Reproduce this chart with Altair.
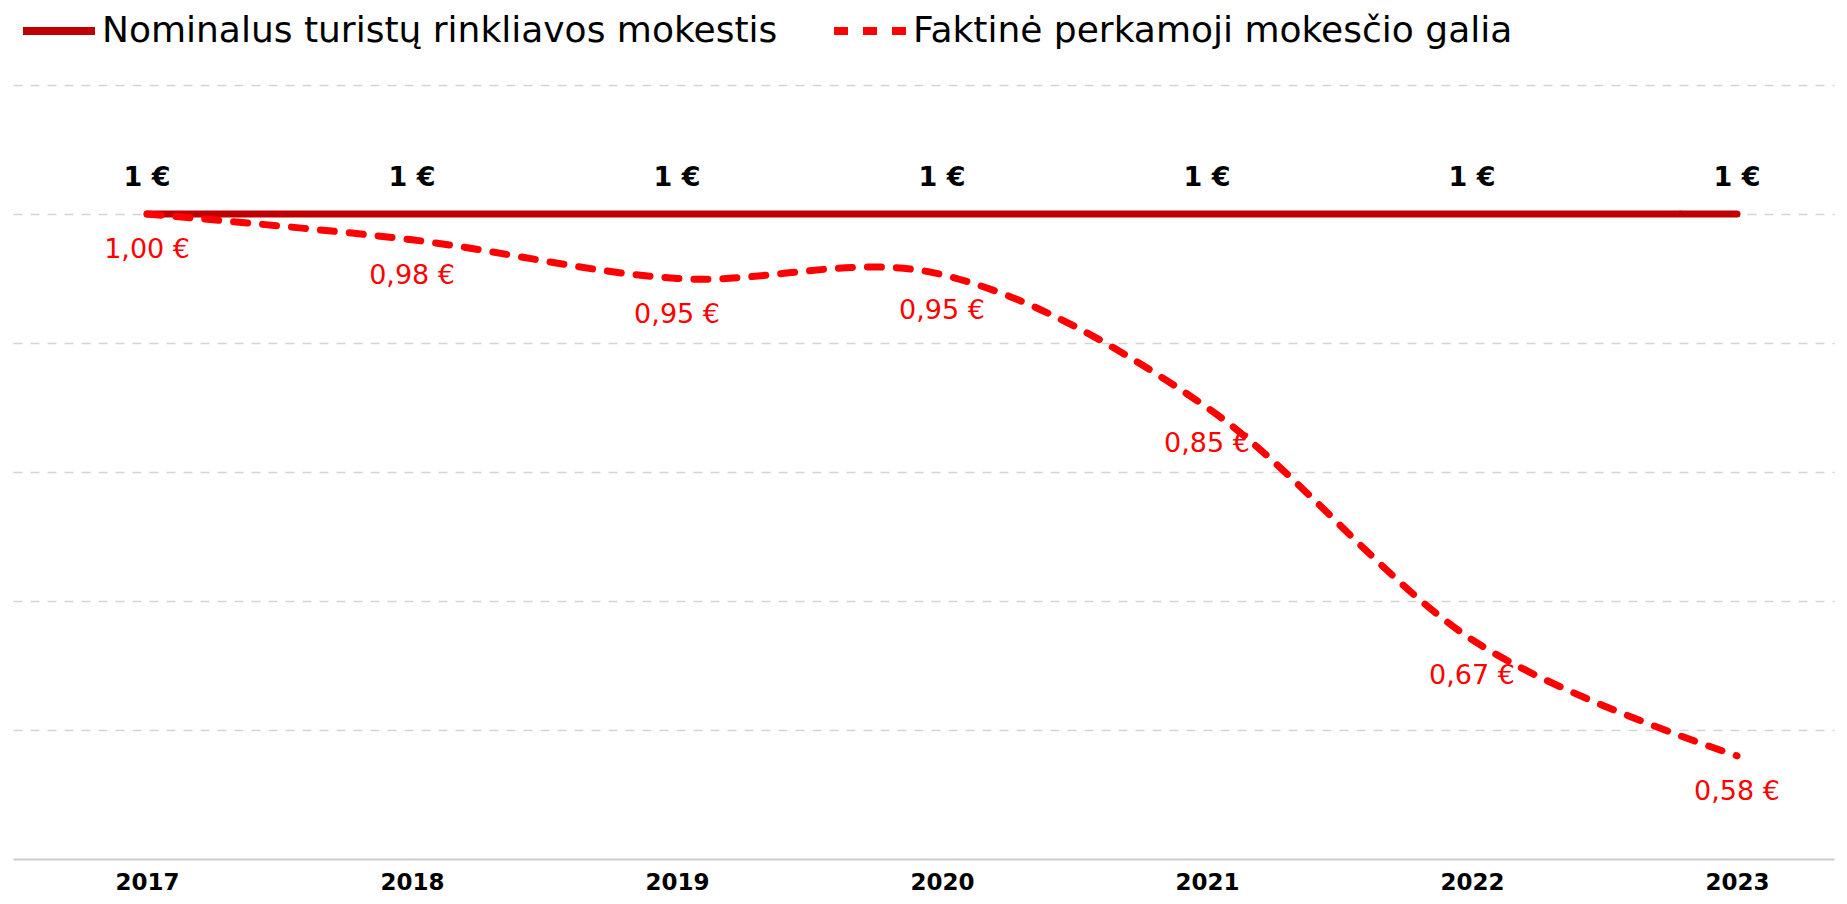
import altair as alt
import pandas as pd

years = [2017, 2018, 2019, 2020, 2021, 2022, 2023]
nominal = [1, 1, 1, 1, 1, 1, 1]
real = [1.00, 0.98, 0.95, 0.953, 0.85, 0.67, 0.58]
series = ["Nominalus turistų rinkliavos mokestis", "Faktinė perkamoji mokesčio galia"]
nominal_labels = ["1 €"] * len(years)
real_labels = [f"{v:.2f}".replace(".", ",") + " €" for v in real]

rows = []
for yr, v, lb in zip(years, nominal, nominal_labels):
    rows.append({"year": yr, "value": v, "series": series[0], "label": lb})
for yr, v, lb in zip(years, real, real_labels):
    rows.append({"year": yr, "value": v, "series": series[1], "label": lb})
df = pd.DataFrame(rows)

FONT = "DejaVu Sans"

x = alt.X(
    "year:Q",
    scale=alt.Scale(domain=[2016.494, 2023.366], nice=False, zero=False),
    axis=alt.Axis(
        values=years, format="d", title=None, grid=False, ticks=False,
        domain=True, domainColor="#cccccc", domainWidth=2,
        labelFont=FONT, labelFontWeight="bold", labelFontSize=23,
        labelColor="black", labelPadding=12,
    ),
)
y = alt.Y(
    "value:Q",
    scale=alt.Scale(domain=[0.5, 1.1], nice=False, zero=False),
    axis=alt.Axis(
        values=[0.6, 0.7, 0.8, 0.9, 1.0, 1.1], labels=False, ticks=False,
        domain=False, title=None, grid=True, gridDash=[9, 8],
        gridColor="#d4d4d4", gridWidth=1.5,
    ),
)

legend = alt.Legend(
    title=None, orient="none", legendX=48, legendY=-73, direction="horizontal",
    symbolType="M-3.8,0H1", symbolSize=900, symbolStrokeWidth=8,
    labelFont=FONT, labelFontSize=36, labelColor="black", labelOffset=3,
    labelLimit=2000, columnPadding=40, padding=0,
)
color = alt.Color(
    "series:N",
    scale=alt.Scale(domain=series, range=["#c00000", "#ff0000"]),
    legend=legend,
)
dash = alt.StrokeDash(
    "series:N",
    scale=alt.Scale(domain=series, range=[[1, 0], [14, 15]]),
    legend=legend,
)

base = alt.Chart(df)

line_nom = base.transform_filter(alt.datum.series == series[0]).mark_line(
    strokeWidth=7, strokeCap="round", interpolate="cardinal"
).encode(x=x, y=y, color=color, strokeDash=dash)

line_real = base.transform_filter(alt.datum.series == series[1]).mark_line(
    strokeWidth=7, strokeCap="round", interpolate="cardinal"
).encode(x=x, y=y, color=color, strokeDash=dash)

text_nom = base.transform_filter(alt.datum.series == series[0]).mark_text(
    dy=-36, font=FONT, fontWeight="bold", fontSize=27, color="black"
).encode(x=x, y=y, text="label:N")

text_real = base.transform_filter(alt.datum.series == series[1]).mark_text(
    dy=36, font=FONT, fontSize=27, color="#ff0000"
).encode(x=x, y=y, text="label:N")

chart = alt.layer(line_nom, line_real, text_nom, text_real).properties(
    width=1821, height=774,
    autosize=alt.AutoSizeParams(type="none"),
    padding={"left": 5, "right": 5, "top": 77, "bottom": 36},
).configure_view(stroke=None)

chart.save("out.html", embed_options={"renderer": "svg", "actions": False})
